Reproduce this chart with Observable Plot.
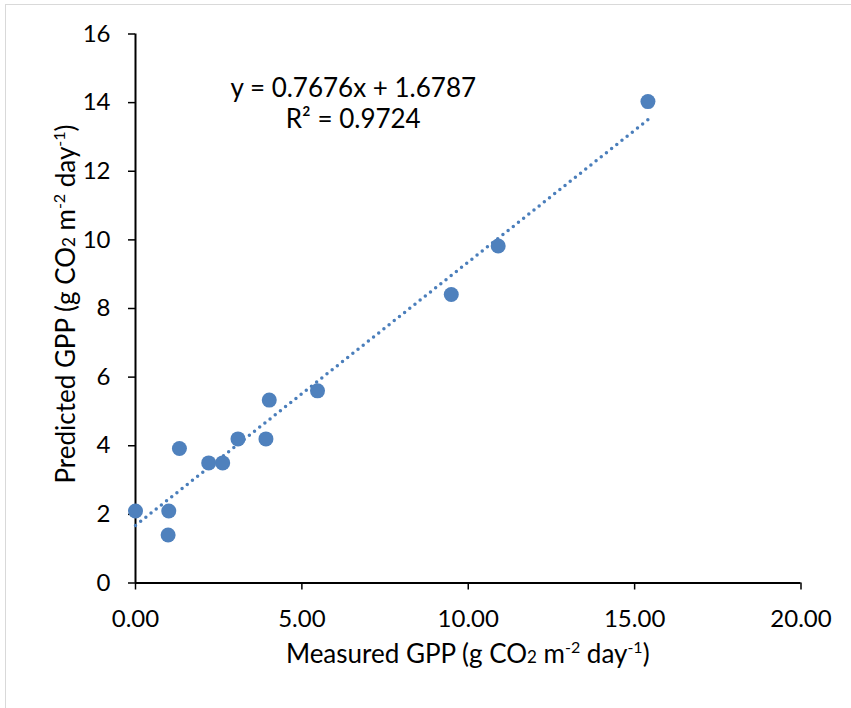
<!DOCTYPE html>
<html>
<head>
<meta charset="utf-8">
<script src="https://cdn.jsdelivr.net/npm/d3@7"></script>
<script src="https://cdn.jsdelivr.net/npm/@observablehq/plot@0.6"></script>
<style>
  html, body { margin: 0; padding: 0; background: #fff; }
  #frame { position: absolute; left: 5px; top: 4px; width: 860px; height: 720px; border: 1.5px solid #d9d9d9; box-sizing: border-box; }
  #chart { position: absolute; left: 0; top: 0; }
  svg text { font-family: Lato, "Open Sans", sans-serif; }
</style>
</head>
<body>
<div id="frame"></div>
<div id="chart"></div>
<script>
// Data
const measured  = [0.00, 1.00, 0.98, 1.32, 2.20, 2.62, 3.08, 3.92, 4.02, 5.47, 9.49, 10.90, 15.40];
const predicted = [2.10, 2.10, 1.40, 3.92, 3.50, 3.50, 4.20, 4.20, 5.33, 5.60, 8.41, 9.82, 14.03];
const slope = 0.7676;
const intercept = 1.6787;
const r2 = 0.9724;
const xTicks = [0, 5, 10, 15, 20];
const yTicks = [0, 2, 4, 6, 8, 10, 12, 14, 16];

const points = measured.map((m, i) => ({x: m, y: predicted[i]}));
const xMax = d3.max(measured);
const trend = [0, xMax].map(x => ({x, y: slope * x + intercept}));

const blue = "#4f81bd";
const fontSize = 24;

const plot = Plot.plot({
  width: 851,
  height: 708,
  marginLeft: 135,
  marginRight: 50.5,
  marginTop: 33.5,
  marginBottom: 125.5,
  style: {fontSize: fontSize + "px", fontFamily: "Lato, 'Open Sans', sans-serif", color: "#000", background: "transparent"},
  x: {domain: [0, 20]},
  y: {domain: [0, 16]},
  marks: [
    Plot.axisX({ticks: xTicks, tickFormat: d3.format(".2f"), tickSize: 7, tickPadding: 20, stroke: "#000", strokeWidth: 1.5, label: null, fontSize: fontSize}),
    Plot.axisY({ticks: yTicks, tickFormat: d3.format("d"), tickSize: 7, tickPadding: 18, stroke: "#000", strokeWidth: 1.5, label: null, fontSize: fontSize}),
    Plot.ruleX([0], {stroke: "#000", strokeWidth: 2}),
    Plot.ruleY([0], {stroke: "#000", strokeWidth: 2}),
    Plot.line(trend, {x: "x", y: "y", stroke: "#4a7ebb", strokeWidth: 3.5, strokeDasharray: "0 6.6", strokeLinecap: "round"}),
    Plot.dot(points, {x: "x", y: "y", r: 7.5, fill: blue, stroke: "none"}),
    Plot.text([`y = ${slope}x + ${intercept}`], {text: d => d, frameAnchor: "top", dx: -115, dy: 45, fontSize: 26, fill: "#000"}),
    Plot.text([`R² = ${r2}`], {text: d => d, frameAnchor: "top", dx: -115, dy: 76, fontSize: 26, fill: "#000"})
  ]
});

document.getElementById("chart").appendChild(plot);

// Axis titles with super/subscripts
const svg = d3.select(plot);
const xs = plot.scale("x"), ys = plot.scale("y");
const xMid = (xs.range[0] + xs.range[1]) / 2;
const yMid = (ys.range[0] + ys.range[1]) / 2;

function addTitle(sel, prefix) {
  sel.append("tspan").text(prefix + " (g CO");
  sel.append("tspan").attr("font-size", 17).text("2");
  sel.append("tspan").text(" m");
  sel.append("tspan").attr("font-size", 16).attr("dy", -10).text("-2");
  sel.append("tspan").attr("dy", 10).text(" day");
  sel.append("tspan").attr("font-size", 16).attr("dy", -10).text("-1");
  sel.append("tspan").attr("dy", 10).text(")");
}

const xt = svg.append("text")
  .attr("x", xMid).attr("y", 663)
  .attr("text-anchor", "middle")
  .attr("font-size", 26)
  .attr("fill", "#000");
addTitle(xt, "Measured GPP");

const yt = svg.append("text")
  .attr("transform", `translate(75, ${yMid - 4}) rotate(-90)`)
  .attr("text-anchor", "middle")
  .attr("font-size", 26)
  .attr("fill", "#000");
addTitle(yt, "Predicted GPP");
</script>
</body>
</html>
